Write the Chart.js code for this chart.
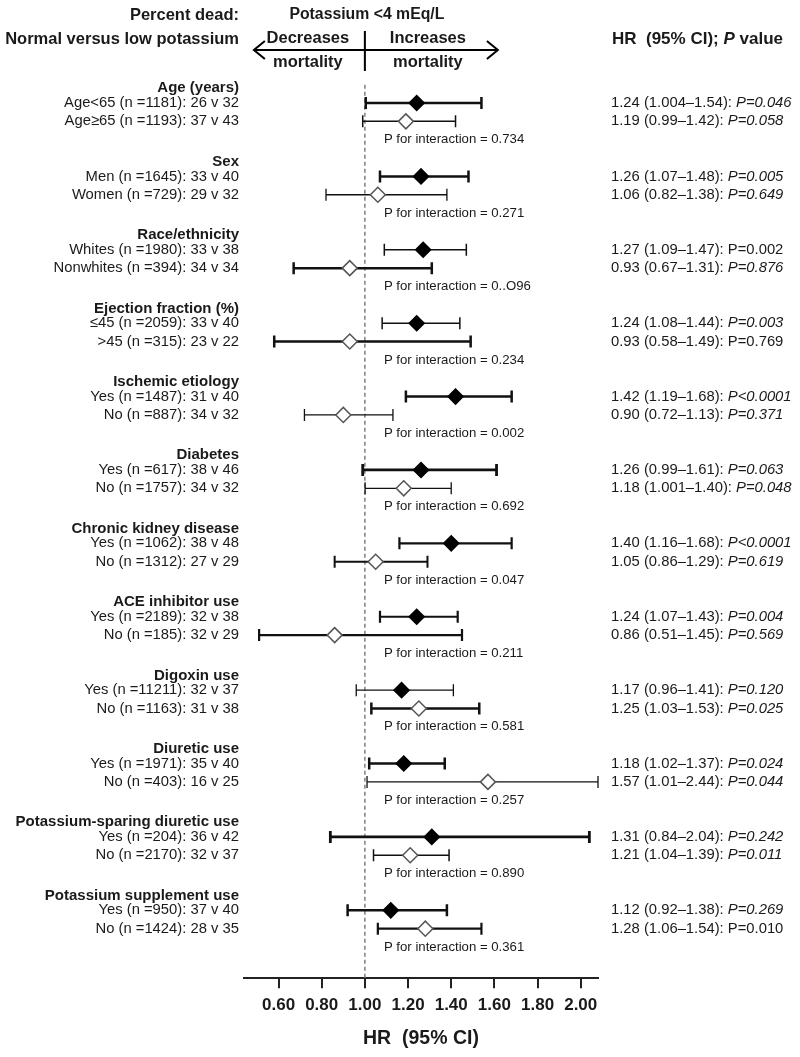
<!DOCTYPE html>
<html lang="en">
<head>
<meta charset="UTF-8">
<title>Potassium &lt;4 mEq/L – subgroup hazard ratios</title>
<script src="https://cdn.jsdelivr.net/npm/chart.js"></script>
<style>
  html, body { margin: 0; padding: 0; background: #fff; }
</style>
</head>
<body>
<canvas id="forest" width="800" height="1057"></canvas>

<script>
// ---- data ----
const groups = ['Age (years)', 'Sex', 'Race/ethnicity', 'Ejection fraction (%)', 'Ischemic etiology',
  'Diabetes', 'Chronic kidney disease', 'ACE inhibitor use', 'Digoxin use', 'Diuretic use',
  'Potassium-sparing diuretic use', 'Potassium supplement use'];

const subgroups = [
  'Age<65 (n =1181): 26 v 32', 'Age≥65 (n =1193): 37 v 43',
  'Men (n =1645): 33 v 40', 'Women (n =729): 29 v 32',
  'Whites (n =1980): 33 v 38', 'Nonwhites (n =394): 34 v 34',
  '≤45 (n =2059): 33 v 40', '>45 (n =315): 23 v 22',
  'Yes (n =1487): 31 v 40', 'No (n =887): 34 v 32',
  'Yes (n =617): 38 v 46', 'No (n =1757): 34 v 32',
  'Yes (n =1062): 38 v 48', 'No (n =1312): 27 v 29',
  'Yes (n =2189): 32 v 38', 'No (n =185): 32 v 29',
  'Yes (n =11211): 32 v 37', 'No (n =1163): 31 v 38',
  'Yes (n =1971): 35 v 40', 'No (n =403): 16 v 25',
  'Yes (n =204): 36 v 42', 'No (n =2170): 32 v 37',
  'Yes (n =950): 37 v 40', 'No (n =1424): 28 v 35'
];

const hr     = [1.24, 1.19, 1.26, 1.06, 1.27, 0.93, 1.24, 0.93, 1.42, 0.90, 1.26, 1.18,
                1.40, 1.05, 1.24, 0.86, 1.17, 1.25, 1.18, 1.57, 1.31, 1.21, 1.12, 1.28];
const ciLow  = [1.004, 0.99, 1.07, 0.82, 1.09, 0.67, 1.08, 0.58, 1.19, 0.72, 0.99, 1.001,
                1.16, 0.86, 1.07, 0.51, 0.96, 1.03, 1.02, 1.01, 0.84, 1.04, 0.92, 1.06];
const ciHigh = [1.54, 1.42, 1.48, 1.38, 1.47, 1.31, 1.44, 1.49, 1.68, 1.13, 1.61, 1.40,
                1.68, 1.29, 1.43, 1.45, 1.41, 1.53, 1.37, 2.44, 2.04, 1.39, 1.38, 1.54];

const pValues = ['=0.046', '=0.058', '=0.005', '=0.649', '=0.002', '=0.876', '=0.003', '=0.769',
                 '<0.0001', '=0.371', '=0.063', '=0.048', '<0.0001', '=0.619', '=0.004', '=0.569',
                 '=0.120', '=0.025', '=0.024', '=0.044', '=0.242', '=0.011', '=0.269', '=0.010'];
// a few P values are printed upright in the original
const pItalic = pValues.map((p, i) => ![4, 7, 23].includes(i));

const interactionP = ['0.734', '0.271', '0..O96', '0.234', '0.002', '0.692',
                      '0.047', '0.211', '0.581', '0.257', '0.890', '0.361'];

const xTicks = [0.6, 0.8, 1.0, 1.2, 1.4, 1.6, 1.8, 2.0];

// ---- styles ----
const FONT = '"Liberation Sans", Arial, sans-serif';
const INK = '#1a1a1a';
const barWidths = [2.5, 1.5, 2.5, 1.3, 1.5, 2.5, 1.5, 2.5, 2.5, 1.3, 2.8, 1.3,
                   2.2, 2.0, 2.2, 2.2, 1.3, 2.5, 2.5, 1.3, 2.8, 1.5, 2.5, 2.2];

// row layout in y units: header, two subgroups, interaction line
function headerRow(g) { return g * 4; }
function subRow(i) { return Math.floor(i / 2) * 4 + 0.8 + (i % 2); }
function pRow(g) { return g * 4 + 2.8; }

function fmt(v) {
  return Math.round(v * 100) / 100 === v ? v.toFixed(2) : String(v);
}

const forestPlugin = {
  id: 'forest',
  beforeDatasetsDraw(chart) {
    const ctx = chart.ctx, x = chart.scales.x, y = chart.scales.y;
    ctx.save();
    // dashed line at HR = 1
    ctx.strokeStyle = '#808080';
    ctx.lineWidth = 1.5;
    ctx.setLineDash([4, 3]);
    ctx.beginPath();
    ctx.moveTo(x.getPixelForValue(1), y.getPixelForValue(-0.2));
    ctx.lineTo(x.getPixelForValue(1), chart.chartArea.bottom);
    ctx.stroke();
    ctx.setLineDash([]);

    // confidence intervals, clipped to the axis range
    ctx.strokeStyle = '#111';
    hr.forEach((v, i) => {
      const x0 = x.getPixelForValue(Math.max(ciLow[i], x.min));
      const x1 = x.getPixelForValue(Math.min(ciHigh[i], x.max));
      const py = y.getPixelForValue(subRow(i));
      ctx.lineWidth = barWidths[i];
      ctx.beginPath();
      ctx.moveTo(x0, py); ctx.lineTo(x1, py);
      ctx.moveTo(x0, py - 6); ctx.lineTo(x0, py + 6);
      ctx.moveTo(x1, py - 6); ctx.lineTo(x1, py + 6);
      ctx.stroke();
    });
    ctx.restore();
  },
  afterDraw(chart) {
    const ctx = chart.ctx, x = chart.scales.x, y = chart.scales.y;
    const leftX = chart.chartArea.left - 5;
    const rightX = chart.chartArea.right + 13;
    const pX = x.getPixelForValue(1) + 19;
    ctx.save();
    ctx.fillStyle = INK;
    ctx.textBaseline = 'middle';

    groups.forEach((g, gi) => {
      ctx.textAlign = 'right';
      ctx.font = 'bold 15px ' + FONT;
      ctx.fillText(g, leftX, y.getPixelForValue(headerRow(gi)));
      ctx.textAlign = 'left';
      ctx.font = '13.2px ' + FONT;
      ctx.fillText('P for interaction = ' + interactionP[gi], pX, y.getPixelForValue(pRow(gi)));
    });

    subgroups.forEach((s, i) => {
      const py = y.getPixelForValue(subRow(i));
      ctx.textAlign = 'right';
      ctx.font = '14.8px ' + FONT;
      ctx.fillText(s, leftX, py);

      ctx.textAlign = 'left';
      const est = hr[i].toFixed(2) + ' (' + fmt(ciLow[i]) + '–' + fmt(ciHigh[i]) + '): ';
      ctx.fillText(est, rightX, py);
      const w = ctx.measureText(est).width;
      ctx.font = (pItalic[i] ? 'italic ' : '') + '14.8px ' + FONT;
      ctx.fillText('P' + pValues[i], rightX + w, py);
    });

    // header block
    const mid = x.getPixelForValue(1);
    ctx.font = 'bold 16.5px ' + FONT;
    ctx.textAlign = 'right';
    ctx.fillText('Percent dead:', leftX, 15);
    ctx.fillText('Normal versus low potassium', leftX, 39);
    ctx.font = 'bold 15.8px ' + FONT;
    ctx.textAlign = 'center';
    ctx.fillText('Potassium <4 mEq/L', mid + 2, 15);
    ctx.font = 'bold 16.5px ' + FONT;
    ctx.fillText('Decreases', mid - 57, 38);
    ctx.fillText('Increases', mid + 63, 38);
    ctx.fillText('mortality', mid - 57, 62);
    ctx.fillText('mortality', mid + 63, 62);

    ctx.strokeStyle = '#000';
    ctx.lineWidth = 2;
    ctx.beginPath();
    ctx.moveTo(mid, 31); ctx.lineTo(mid, 71);
    ctx.moveTo(mid - 111, 50); ctx.lineTo(mid + 133, 50);
    ctx.moveTo(mid - 100, 41); ctx.lineTo(mid - 111, 50); ctx.lineTo(mid - 100, 59);
    ctx.moveTo(mid + 122, 41); ctx.lineTo(mid + 133, 50); ctx.lineTo(mid + 122, 59);
    ctx.stroke();

    ctx.textAlign = 'left';
    ctx.font = 'bold 17px ' + FONT;
    let hx = rightX + 1;
    const part1 = 'HR  (95% CI); ';
    ctx.fillText(part1, hx, 39);
    hx += ctx.measureText(part1).width;
    ctx.font = 'italic bold 17px ' + FONT;
    ctx.fillText('P', hx, 39);
    hx += ctx.measureText('P').width;
    ctx.font = 'bold 17px ' + FONT;
    ctx.fillText(' value', hx, 39);
    ctx.restore();
  }
};

new Chart(document.getElementById('forest'), {
  type: 'scatter',
  data: {
    datasets: [{
      data: hr.map((v, i) => ({ x: v, y: subRow(i) })),
      pointStyle: 'rectRot',
      pointRadius: 7.5,
      pointHoverRadius: 7.5,
      backgroundColor: hr.map((v, i) => i % 2 === 0 ? '#000' : '#fff'),
      borderColor: hr.map((v, i) => i % 2 === 0 ? '#000' : '#555'),
      borderWidth: 1.5
    }]
  },
  options: {
    responsive: false,
    animation: false,
    layout: { padding: { left: 244, right: 202, top: 70, bottom: 7 } },
    plugins: { legend: { display: false }, tooltip: { enabled: false } },
    scales: {
      x: {
        type: 'linear',
        min: 0.44,
        max: 2.08,
        afterBuildTicks: scale => { scale.ticks = xTicks.map(v => ({ value: v })); },
        ticks: {
          padding: 7,
          color: INK,
          font: { family: FONT, size: 17, weight: 'bold' },
          callback: v => Number(v).toFixed(2)
        },
        grid: { drawOnChartArea: false, drawTicks: true, tickLength: 10, color: '#222', lineWidth: 2 },
        border: { display: true, color: '#222', width: 2 },
        title: {
          display: true,
          text: 'HR  (95% CI)',
          color: INK,
          font: { family: FONT, size: 19.5, weight: 'bold' },
          padding: { top: 4, bottom: 0 }
        }
      },
      y: { display: false, reverse: true, min: -1, max: 48.5 }
    }
  },
  plugins: [forestPlugin]
});
</script>
</body>
</html>
